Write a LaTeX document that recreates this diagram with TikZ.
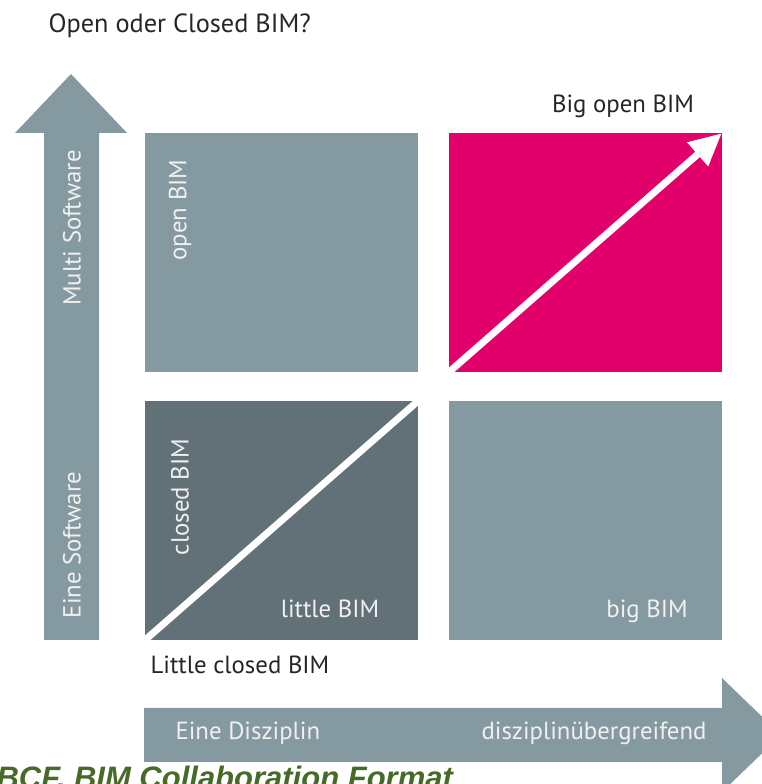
\documentclass[tikz,border=0pt]{standalone}
\usepackage{fontspec}
\setmainfont{PT Sans}
\newfontfamily\bcffont{Liberation Sans}
\usepackage{tikz}
\usetikzlibrary{arrows.meta}
\definecolor{quadgray}{RGB}{133,153,160}
\definecolor{quaddark}{RGB}{98,113,119}
\definecolor{bimpink}{RGB}{226,0,106}
\definecolor{bcfgreen}{RGB}{72,106,40}
\tikzset{
  quad/.style={rectangle,inner sep=0pt,minimum width=273pt,minimum height=239pt},
  ttl/.style={font=\fontsize{26.3}{30}\selectfont,text=black!85},
  lab/.style={font=\fontsize{24.8}{28}\selectfont,text=black!85},
  inlab/.style={font=\fontsize{24.8}{28}\selectfont,text=white!94!black},
  vlab/.style={inlab,rotate=90},
  diag/.style={white,line width=7pt},
}

\begin{document}
\begin{tikzpicture}[x=1pt,y=1pt]
  \useasboundingbox (0,0) rectangle (762,784);
  \clip (0,0) rectangle (762,784);
  \node[ttl,anchor=base west] (title) at (45,751) {Open oder Closed BIM?};
  % axes
  \fill[quadgray] (44,144) -- (44,651) -- (15,651) -- (71,710) -- (127,651) -- (99,651) -- (99,144) -- cycle;
  \fill[quadgray] (144,22) -- (144,76) -- (722,76) -- (722,106) -- (781,49) -- (722,-8) -- (722,22) -- cycle;
  \node[vlab] (multi) at (72,556) {Multi Software};
  \node[vlab] (eine) at (72,239) {Eine Software};
  \node[inlab,anchor=base west] (diszA) at (172,44) {Eine Disziplin};
  \node[inlab,anchor=base east] (diszB) at (710,44) {disziplinübergreifend};
  % quadrants
  \node[quad,fill=quadgray] (open) at (281,531) {};
  \node[quad,fill=bimpink] (bigopen) at (585,531) {};
  \node[quad,fill=quaddark] (closed) at (281,263) {};
  \node[quad,fill=quadgray] (big) at (585,263) {};
  \draw[diag] (closed.south west) -- (closed.north east);
  \draw[diag,-{Triangle[length=32pt,width=30pt]}] (bigopen.south west) -- (bigopen.north east);
  \node[vlab] (openlab) at (180,574) {open BIM};
  \node[vlab] (closedlab) at (180,287) {closed BIM};
  \node[inlab,anchor=base] (littlelab) at (330,166) {little BIM};
  \node[inlab,anchor=base] (biglab) at (647,166) {big BIM};
  \node[lab,anchor=base] (bigopenlab) at (623,671) {Big open BIM};
  \node[lab,anchor=base west] (littleclosed) at (147,110) {Little closed BIM};
  \node[font=\bcffont\bfseries\itshape\fontsize{31}{33}\selectfont,text=bcfgreen,anchor=base west] (bcf) at (-7,-5) {BCF, BIM Collaboration Format};
\end{tikzpicture}
\end{document}
